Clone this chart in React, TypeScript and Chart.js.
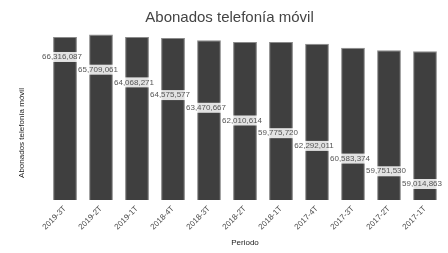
import React, { useEffect, useRef } from "react";
import { Chart, registerables } from "chart.js";

Chart.register(...registerables);

const periodos = ["2019-3T", "2019-2T", "2019-1T", "2018-4T", "2018-3T", "2018-2T", "2018-1T", "2017-4T", "2017-3T", "2017-2T", "2017-1T"];
const abonados = [66.3e6, 67.3e6, 66.3e6, 65.9e6, 65.0e6, 64.3e6, 64.3e6, 63.6e6, 62.0e6, 60.9e6, 60.5e6];
const etiquetas = ["66,316,087", "65,709,061", "64,068,271", "64,575,577", "63,470,667", "62,010,614", "59,775,720", "62,292,011", "60,583,374", "59,751,530", "59,014,863"];
const posicionEtiqueta = [11, 10, 9, 8, 7, 6, 5, 4, 3, 2, 1];

const FONT = "'Liberation Sans', Arial, Helvetica, sans-serif";

const labelPlugin = {
  id: "barLabels",
  afterDatasetsDraw(chart: any) {
    const ctx = chart.ctx;
    const meta = chart.getDatasetMeta(0);
    const y2 = chart.scales.y2;
    ctx.save();
    ctx.font = `8px ${FONT}`;
    ctx.textAlign = "center";
    ctx.textBaseline = "middle";
    meta.data.forEach((bar: any, i: number) => {
      const x = bar.x - 3;
      const y = y2.getPixelForValue(posicionEtiqueta[i]);
      const t = etiquetas[i];
      const w = ctx.measureText(t).width;
      ctx.fillStyle = "rgba(255,255,255,0.85)";
      ctx.fillRect(x - w / 2 - 1, y - 5, w + 2, 10);
      ctx.fillStyle = "#555555";
      ctx.fillText(t, x, y);
    });
    // y axis title
    const area = chart.chartArea;
    ctx.save();
    ctx.translate(22, 133);
    ctx.rotate(-Math.PI / 2);
    ctx.font = `8px ${FONT}`;
    ctx.fillStyle = "#222222";
    ctx.fillText("Abonados telefonía móvil", 0, 0);
    ctx.restore();
    ctx.restore();
  },
};

export default function App() {
  const ref = useRef<HTMLCanvasElement | null>(null);
  useEffect(() => {
    document.body.style.margin = "0";
    const chart = new Chart(ref.current as HTMLCanvasElement, {
      type: "bar",
      data: {
        labels: periodos,
        datasets: [
          {
            data: abonados,
            backgroundColor: "#3f3f3f",
            borderColor: "#8a8a8a",
            borderWidth: 1,
            categoryPercentage: 1,
            barPercentage: 0.66,
          },
        ],
      },
      options: {
        responsive: false,
        animation: false,
        layout: { padding: { left: 16, right: 5, top: 0, bottom: 0 } },
        plugins: {
          legend: { display: false },
          tooltip: { enabled: false },
          title: {
            display: true,
            text: "Abonados telefonía móvil",
            color: "#444444",
            font: { family: FONT, size: 15, weight: "normal" },
            padding: { top: 9, bottom: 0 },
          },
        },
        scales: {
          x: {
            grid: { display: false, drawTicks: false },
            border: { display: false },
            ticks: {
              color: "#4d4d4d",
              font: { family: FONT, size: 8 },
              maxRotation: 45,
              minRotation: 45,
              padding: 4,
            },
            title: {
              display: true,
              text: "Periodo",
              color: "#222222",
              font: { family: FONT, size: 8 },
              padding: { top: 0, bottom: 5 },
            },
            afterFit(scale: any) {
              scale.height = 53;
            },
          },
          y: {
            min: 0,
            max: 70.4e6,
            grid: { display: false, drawTicks: false },
            border: { display: false },
            ticks: { display: false },
            afterFit(scale: any) {
              scale.width = 31;
            },
          },
          y2: {
            display: false,
            min: -0.26,
            max: 13.36,
          },
        },
      },
      plugins: [labelPlugin],
    } as any);
    return () => chart.destroy();
  }, []);
  return (
    <div style={{ width: 448, height: 253 }}>
      <canvas ref={ref} width={448} height={253} />
    </div>
  );
}
